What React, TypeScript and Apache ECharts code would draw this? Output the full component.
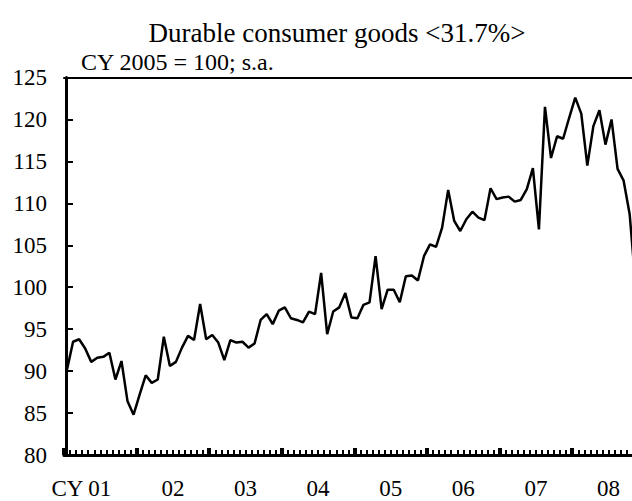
import React, { useEffect, useRef } from "react";
import * as echarts from "echarts";

const yearLabels = ["01", "02", "03", "04", "05", "06", "07", "08"];
const monthCategories: string[] = yearLabels.flatMap((y) =>
  ["01", "02", "03", "04", "05", "06", "07", "08", "09", "10", "11", "12"].map((m) => `20${y}-${m}`)
);
const durableValues = [
  90.2, 93.5, 93.8, 92.7, 91.1, 91.6, 91.7, 92.2, 89.0, 91.2, 86.4, 84.8,
  87.2, 89.5, 88.6, 89.0, 94.1, 90.6, 91.1, 92.8, 94.2, 93.7, 98.0, 93.8,
  94.3, 93.4, 91.3, 93.7, 93.4, 93.5, 92.8, 93.3, 96.1, 96.8, 95.6, 97.2,
  97.6, 96.3, 96.1, 95.8, 97.1, 96.8, 101.7, 94.4, 97.1, 97.6, 99.3, 96.4,
  96.3, 97.9, 98.2, 103.7, 97.4, 99.7, 99.7, 98.2, 101.3, 101.4, 100.8, 103.7,
  105.1, 104.8, 107.1, 111.6, 107.9, 106.7, 108.1, 109.0, 108.3, 108.0, 111.8, 110.5,
  110.7, 110.8, 110.2, 110.4, 111.7, 114.2, 106.9, 121.5, 115.4, 118.0, 117.7, 120.2,
  122.6, 120.7, 114.5, 119.2, 121.1, 117.0, 120.0, 114.1, 112.7, 108.7, 100.0,
];
const yMin = 80;
const yMax = 125;
const yStep = 5;
const titleText = "Durable consumer goods <31.7%>";
const subtitleText = "CY 2005 = 100; s.a.";

export default function App() {
  const ref = useRef<HTMLDivElement>(null);
  useEffect(() => {
    if (!ref.current) return;
    const chart = echarts.init(ref.current, null, { renderer: "svg" });
    const font = "'Liberation Serif', 'Times New Roman', serif";
    const gridBox = { left: 64, top: 77.5, right: 15.2, bottom: 46 };
    chart.setOption({
      animation: false,
      textStyle: { fontFamily: font, color: "#000" },
      graphic: [
        {
          type: "text",
          x: 337,
          y: 33,
          style: {
            text: titleText,
            fill: "#000",
            font: `27px ${font}`,
            textAlign: "center",
            textVerticalAlign: "middle",
          },
        },
        {
          type: "text",
          x: 81,
          y: 62,
          style: {
            text: subtitleText,
            fill: "#000",
            font: `24px ${font}`,
            textAlign: "left",
            textVerticalAlign: "middle",
          },
        },
      ],
      grid: [
        { ...gridBox, containLabel: false },
        { ...gridBox, containLabel: false },
      ],
      xAxis: [
        {
          type: "category",
          gridIndex: 0,
          data: monthCategories,
          boundaryGap: true,
          position: "bottom",
          axisLine: { show: true, lineStyle: { color: "#000", width: 3 } },
          axisTick: { show: true, interval: 0, inside: true, length: 5, lineStyle: { color: "#000", width: 2 } },
          axisLabel: { show: false },
          splitLine: { show: false },
          z: 3,
        },
        {
          type: "category",
          gridIndex: 0,
          data: monthCategories,
          position: "top",
          axisLine: { show: true, lineStyle: { color: "#000", width: 2 } },
          axisTick: { show: false },
          axisLabel: { show: false },
          splitLine: { show: false },
        },
        {
          type: "category",
          gridIndex: 1,
          data: yearLabels,
          boundaryGap: true,
          position: "bottom",
          axisLine: { show: false },
          axisTick: { show: true, inside: true, length: 7, lineStyle: { color: "#000", width: 4 } },
          axisLabel: {
            show: true,
            interval: 0,
            color: "#000",
            fontFamily: font,
            fontSize: 23,
            margin: 22,
            formatter: (v: string, i: number) => (i === 0 ? `{f|CY ${v}}` : v),
            rich: {
              f: { fontFamily: font, fontSize: 23, color: "#000", padding: [0, 38, 0, 0] },
            },
          },
          splitLine: { show: false },
        },
      ],
      yAxis: [
        {
          type: "value",
          gridIndex: 0,
          min: yMin,
          max: yMax,
          interval: yStep,
          offset: -2,
          axisLine: { show: true, lineStyle: { color: "#000", width: 3 } },
          axisTick: { show: true, inside: true, length: 7, lineStyle: { color: "#000", width: 2 } },
          axisLabel: { color: "#000", fontFamily: font, fontSize: 23, margin: 19 },
          splitLine: { show: false },
        },
        { type: "value", gridIndex: 1, min: 0, max: 1, show: false },
      ],
      series: [
        {
          type: "line",
          xAxisIndex: 0,
          yAxisIndex: 0,
          data: durableValues,
          symbol: "none",
          showSymbol: false,
          lineStyle: { color: "#000", width: 2.5 },
          clip: true,
        },
      ],
    });
    return () => chart.dispose();
  }, []);
  return (
    <div style={{ position: "fixed", left: 0, top: 0, width: 632, height: 501, overflow: "hidden", background: "#fff" }}>
      <div ref={ref} style={{ width: 660, height: 501 }} />
    </div>
  );
}
